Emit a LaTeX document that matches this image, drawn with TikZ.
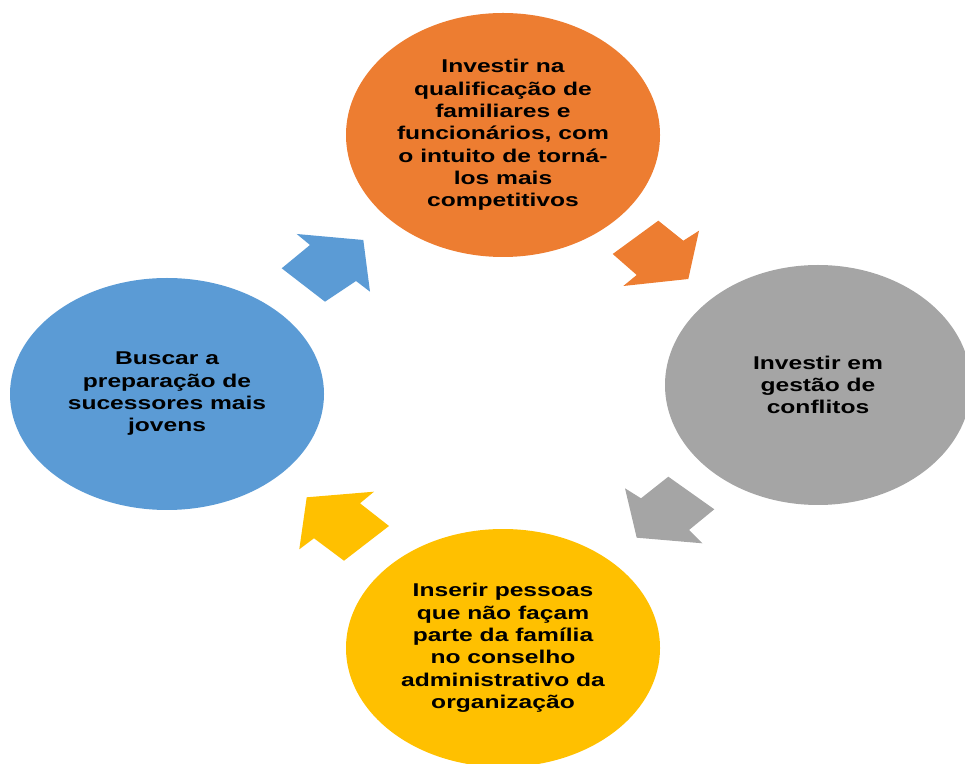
\documentclass[tikz,border=0pt]{standalone}
\usepackage{fontspec}
\setmainfont{Liberation Sans}[FakeStretch=1.33]
\usetikzlibrary{shapes.geometric}

\definecolor{cblue}{HTML}{5B9BD5}
\definecolor{corange}{HTML}{ED7D31}
\definecolor{cgray}{HTML}{A5A5A5}
\definecolor{cyellow}{HTML}{FFC000}

\begin{document}
\begin{tikzpicture}[x=1pt,y=1pt]
	\tikzstyle{every node} = [align=center]
	\tikzstyle{stage} = [ellipse,inner sep=0pt,minimum width=314pt,
		font=\fontsize{18.5}{22.3}\selectfont\bfseries]
	
	\useasboundingbox (0,0) rectangle (965,763);
	
	\node (qualif) [stage,fill=corange,minimum height=244pt] at (503,628)
	{Investir na\\qualificação de\\familiares e\\funcionários, com\\o intuito de torná-\\los mais\\competitivos};
	\node (conflito) [stage,fill=cgray,minimum width=306pt,minimum height=240pt] at (818,378)
	{Investir em\\gestão de\\conflitos};
	\node (conselho) [stage,fill=cyellow,minimum height=238pt] at (503,115)
	{Inserir pessoas\\que não façam\\parte da família\\no conselho\\administrativo da\\organização};
	\node (sucessor) [stage,fill=cblue,minimum height=232pt] at (167,369)
	{Buscar a\\preparação de\\sucessores mais\\jovens};
	
	% setas do ciclo
	\fill [cblue] (296.7,529) -- (310,518) -- (281.7,494.7) -- (325,461.3)
	-- (356,482) -- (370,471.3) -- (363.3,523) -- cycle;
	\fill [corange] (612.7,509) -- (658.3,542.3) -- (683.3,522.3) -- (699,532.3)
	-- (688.3,484) -- (623.3,477) -- (636.7,488) -- cycle;
	\fill [cgray] (668.3,286.3) -- (714.3,253.7) -- (689,233) -- (702.3,219.7)
	-- (636.7,225.3) -- (625,274.7) -- (641,264.7) -- cycle;
	\fill [cyellow] (306.7,265.7) -- (374,271.3) -- (360,259.7) -- (389,237)
	-- (344,202.3) -- (314,224.7) -- (299.3,213.7) -- cycle;
\end{tikzpicture}
\end{document}
